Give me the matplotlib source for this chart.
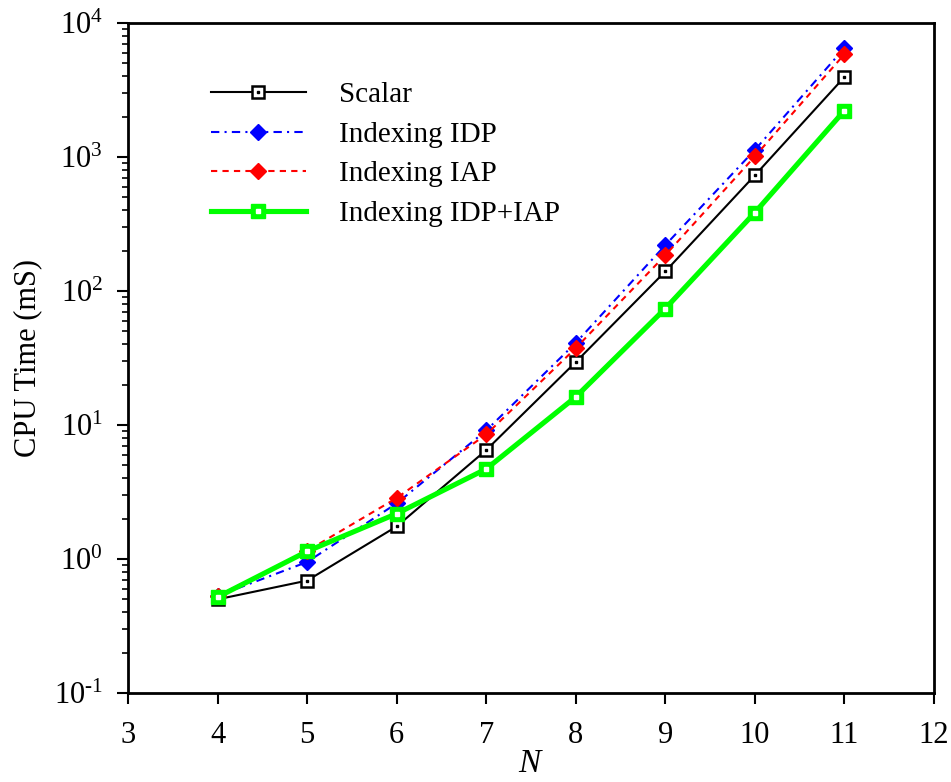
import matplotlib
matplotlib.use("Agg")
import matplotlib.pyplot as plt
import numpy as np
from matplotlib.ticker import FuncFormatter

plt.rcParams["font.family"] = ["Liberation Serif", "DejaVu Serif"]
plt.rcParams["mathtext.fontset"] = "custom"
plt.rcParams["mathtext.rm"] = "Liberation Serif"
plt.rcParams["mathtext.it"] = "Liberation Serif:italic"
plt.rcParams["axes.unicode_minus"] = False

N = [4, 5, 6, 7, 8, 9, 10, 11]
scalar = [0.50, 0.69, 1.75, 6.5, 29.5, 140, 730, 3950]
idp = [0.53, 0.95, 2.6, 9.1, 41, 220, 1130, 6500]
iap = [0.53, 1.15, 2.85, 8.5, 37.5, 185, 1010, 5850]
idp_iap = [0.52, 1.14, 2.18, 4.7, 16.2, 74, 385, 2220]

labels = ["Scalar", "Indexing IDP", "Indexing IAP", "Indexing IDP+IAP"]
GREEN = "#00FF00"

fig = plt.figure(figsize=(9.51, 7.82), dpi=100)
ax = fig.add_axes([0.1346, 0.1138, 0.8475, 0.8568])

# scalar: open square with centre dot
l1, = ax.plot(N, scalar, color="black", lw=1.5, marker="s", ms=9,
              mfc="white", mec="black", mew=1.8, zorder=3)
d1, = ax.plot(N, scalar, ls="none", marker="s", ms=2, mfc="black", mec="black", zorder=4)

l2, = ax.plot(N, idp, color="blue", lw=1.5, ls=(0, (4, 2.5, 1, 2.5)), marker="D", ms=8,
              mfc="blue", mec="blue", zorder=3)
l3, = ax.plot(N, iap, color="red", lw=1.5, ls=(0, (3, 2.5)), marker="D", ms=8,
              mfc="red", mec="red", zorder=3)

l4, = ax.plot(N, idp_iap, color=GREEN, lw=3.7, marker="s", ms=10,
              mfc=GREEN, mec=GREEN, zorder=5)
d4, = ax.plot(N, idp_iap, ls="none", marker="s", ms=2.2, mfc="white", mec="white", zorder=6)

ax.set_yscale("log")
ax.set_xlim(3, 12)
ax.set_ylim(0.1, 1e4)
ax.set_xticks(range(3, 13))
# hyphen instead of minus sign in the exponent, like the original
ax.yaxis.set_major_formatter(FuncFormatter(
    lambda v, pos: "$10^{\\text{%d}}$" % int(round(np.log10(v)))))

ax.set_xlabel("$\\it{N}$", fontsize=24, labelpad=-1)
ax.set_ylabel("CPU Time (mS)", fontsize=22, labelpad=8)

ax.tick_params(axis="x", which="both", direction="out", length=8, width=1.5,
               labelsize=22, pad=12, top=False)
ax.tick_params(axis="y", which="major", direction="out", length=8, width=1.5,
               labelsize=22, pad=10, right=False)
ax.tick_params(axis="y", which="minor", direction="out", length=4.5, width=1.2, right=False)
for sp in ax.spines.values():
    sp.set_linewidth(2)

ax.legend([(l1, d1), l2, l3, (l4, d4)], labels, loc="upper left",
          bbox_to_anchor=(0.085, 0.934), frameon=False, fontsize=21,
          handlelength=3.25, handletextpad=1.13, labelspacing=0.45, borderpad=0)

fig.savefig("out.png", dpi=100)
